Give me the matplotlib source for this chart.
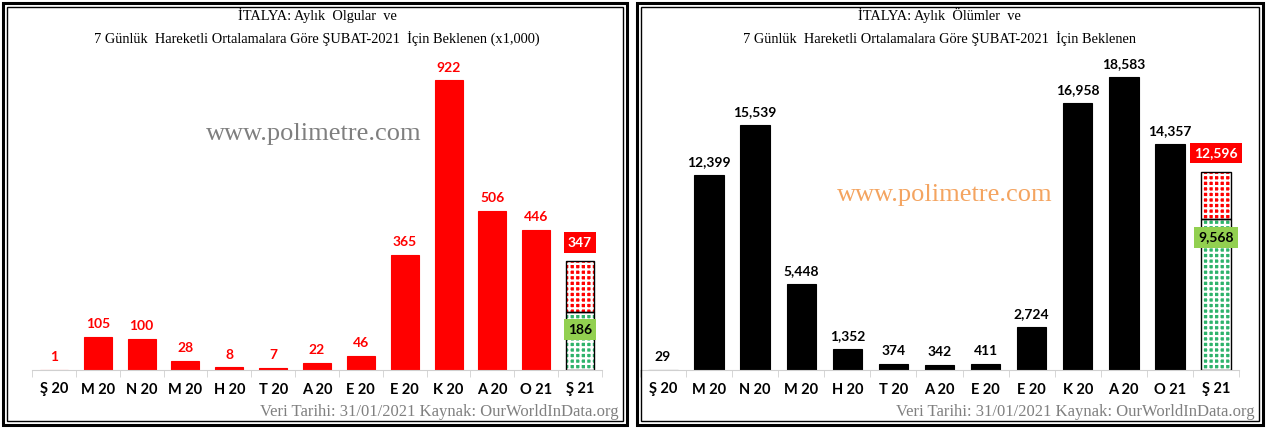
import matplotlib.pyplot as plt
from matplotlib.patches import Rectangle

# month labels (same on both panels)
months = ['Ş 20', 'M 20', 'N 20', 'M 20', 'H 20', 'T 20', 'A 20',
          'E 20', 'E 20', 'K 20', 'A 20', 'O 21', 'Ş 21']

# monthly cases (x1,000), last month is the projection
cases = [1, 105, 100, 28, 8, 7, 22, 46, 365, 922, 506, 446]
cases_low = 186
cases_high = 347

# monthly deaths
deaths = [29, 12399, 15539, 5448, 1352, 374, 342, 411, 2724, 16958, 18583, 14357]
deaths_low = 9568
deaths_high = 12596

RED = '#FF0000'
GREEN = '#2DB36B'
LGREEN = '#92D050'
BAR_FONT = 'Lato'
SERIF = 'Liberation Serif'

plt.rcParams['hatch.linewidth'] = 1.6

fig = plt.figure(figsize=(12.66, 4.28), dpi=100)


def frame(x0, x1):
    # double border around a panel, in pixel units
    W, H = 1266, 428
    for pad, lw in ((0, 2.2), (4, 1.0)):
        fig.patches.append(Rectangle(((x0 + pad) / W, (3 + pad) / H),
                                     (x1 - x0 - 2 * pad) / W, (422 - 2 * pad) / H,
                                     transform=fig.transFigure, fill=False,
                                     edgecolor='black', linewidth=lw))


def panel(rect, values, low, high, ymax, color, lab_color, title, mark, mark_xy, mark_color):
    ax = fig.add_axes(rect)
    x = list(range(len(values)))
    ax.bar(x, values, width=0.64, color=color, edgecolor=color, linewidth=0.8)
    n = len(values)
    # projection: green part and red part stacked
    ax.bar(n, low, width=0.64, color=GREEN, edgecolor='white', hatch='+++', linewidth=0)
    ax.bar(n, high - low, bottom=low, width=0.64, color=RED, edgecolor='white',
           hatch='+++', linewidth=0)
    ax.bar(n, low, width=0.64, fill=False, edgecolor='black', linewidth=1)
    ax.bar(n, high - low, bottom=low, width=0.64, fill=False, edgecolor='black', linewidth=1)

    for xi, v in zip(x, values):
        ax.annotate(f'{v:,}', (xi, v), xytext=(0, 5), textcoords='offset points',
                    ha='center', va='bottom', fontsize=10, fontweight='bold',
                    color=lab_color, family=BAR_FONT)
    ax.annotate(f'{high:,}', (n, high), xytext=(0, 9), textcoords='offset points',
                ha='center', va='bottom', fontsize=10, fontweight='bold', color='white',
                family=BAR_FONT,
                bbox=dict(boxstyle='square,pad=0.3', facecolor=RED, edgecolor='none'))
    ax.annotate(f'{low:,}', (n, low), xytext=(0, -13), textcoords='offset points',
                ha='center', va='center', fontsize=10, fontweight='bold', color='black',
                family=BAR_FONT,
                bbox=dict(boxstyle='square,pad=0.3', facecolor=LGREEN, edgecolor='none'))

    ax.set_xlim(-0.5, n + 0.5)
    ax.set_ylim(0, ymax)
    ax.set_xticks(range(n + 1))
    ax.set_xticklabels(months, fontsize=10.5, fontweight='bold', family=BAR_FONT)
    ax.set_xticks([i - 0.5 for i in range(n + 2)], minor=True)
    ax.tick_params(axis='x', which='major', length=0, pad=9)
    ax.tick_params(axis='x', which='minor', length=5, color='#D0D0D0')
    ax.set_yticks([])
    for s in ('top', 'right', 'left'):
        ax.spines[s].set_visible(False)
    ax.spines['bottom'].set_color('#D0D0D0')

    cx = (rect[0] + rect[0] + rect[2]) / 2
    fig.text(cx, 1 - 27 / 428, title, ha='center', va='center', fontsize=10.4,
             family=SERIF, linespacing=1.6)
    fig.text(mark_xy[0] / 1266, 1 - mark_xy[1] / 428, mark, ha='center', va='center',
             fontsize=19, family=SERIF, color=mark_color)
    return ax


panel([32 / 1266, 58 / 428, 570 / 1266, 314 / 428], cases, cases_low, cases_high, 1000,
      RED, RED,
      'İTALYA: Aylık  Olgular  ve\n7 Günlük  Hareketli Ortalamalara Göre ŞUBAT-2021  İçin Beklenen (x1,000)',
      'www.polimetre.com', (314, 134), '#7F7F7F')
panel([640 / 1266, 58 / 428, 599 / 1266, 315 / 428], deaths, deaths_low, deaths_high, 20000,
      'black', 'black',
      'İTALYA: Aylık  Ölümler  ve\n7 Günlük  Hareketli Ortalamalara Göre ŞUBAT-2021  İçin Beklenen',
      'www.polimetre.com', (945, 195), '#F4A460')

src = 'Veri Tarihi: 31/01/2021 Kaynak: OurWorldInData.org'
fig.text(619 / 1266, 1 - 412 / 428, src, ha='right', va='center', fontsize=12,
         family=SERIF, color='#808080')
fig.text(1255 / 1266, 1 - 412 / 428, src, ha='right', va='center', fontsize=12,
         family=SERIF, color='#808080')

frame(3, 627)
frame(637, 1263)

fig.savefig('out.png', dpi=100)
